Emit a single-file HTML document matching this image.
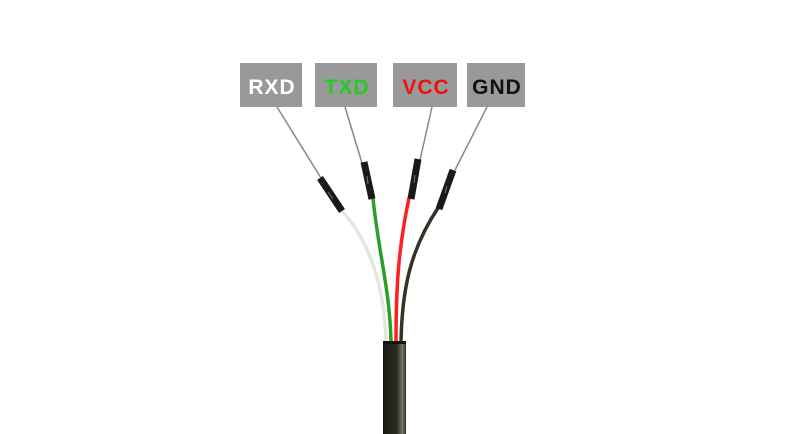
<!DOCTYPE html>
<html><head><meta charset="utf-8"><style>
html,body{margin:0;padding:0;background:#fff;}
svg{display:block}
</style></head><body>
<svg width="800" height="434" viewBox="0 0 800 434" xmlns="http://www.w3.org/2000/svg">
<defs>
<linearGradient id="jk" x1="0" x2="1" y1="0" y2="0">
<stop offset="0" stop-color="#1a1a14"/><stop offset="0.6" stop-color="#2a2a22"/><stop offset="0.85" stop-color="#7a7a6a"/><stop offset="1" stop-color="#2a2a22"/>
</linearGradient>
</defs>
<g font-family="Liberation Sans, sans-serif" font-weight="bold" font-size="21" text-anchor="middle" letter-spacing="1">
<rect x="240" y="63" width="62" height="44" fill="#999"/>
<text x="272" y="94" fill="#fff">RXD</text>
<rect x="315" y="63" width="62" height="44" fill="#999"/>
<text x="347" y="94" fill="#22cc22">TXD</text>
<rect x="393" y="63" width="64" height="44" fill="#999"/>
<text x="426" y="94" fill="#ee1111">VCC</text>
<rect x="467" y="63" width="58" height="44" fill="#999"/>
<text x="497" y="94" fill="#111">GND</text>
</g>
<g stroke="#888" stroke-width="1.5">
<line x1="277" y1="107" x2="321" y2="178"/>
<line x1="345" y1="107" x2="362" y2="163"/>
<line x1="432" y1="107" x2="420" y2="160"/>
<line x1="487" y1="107" x2="455" y2="170"/>
</g>
<g fill="none" stroke-width="3.5" stroke-linecap="round">
<path d="M341 210 C370 240 385 290 386 342" stroke="#e6e6e0"/>
<path d="M373 198 C378 250 390 290 391 342" stroke="#2aa02a"/>
<path d="M409 198 C398 250 396 290 396 342" stroke="#ff2020"/>
<path d="M438 208 C410 250 402 290 401 342" stroke="#333328"/>
</g>
<g stroke="#1a1a1a" stroke-width="7" stroke-linecap="butt">
<line x1="320" y1="178" x2="342" y2="211"/>
<line x1="364" y1="162" x2="372" y2="199"/>
<line x1="418" y1="159" x2="411" y2="199"/>
<line x1="453" y1="170" x2="439" y2="209"/>
</g>
<g stroke="#777" stroke-width="1">
<line x1="328" y1="192" x2="333" y2="199"/>
<line x1="367" y1="176" x2="368" y2="184"/>
<line x1="415" y1="175" x2="414" y2="183"/>
<line x1="447" y1="186" x2="445" y2="193"/>
</g>
<rect x="383" y="341" width="23" height="93" fill="url(#jk)"/>
<rect x="383" y="341" width="23" height="3" fill="#111"/>
</svg>
</body></html>
